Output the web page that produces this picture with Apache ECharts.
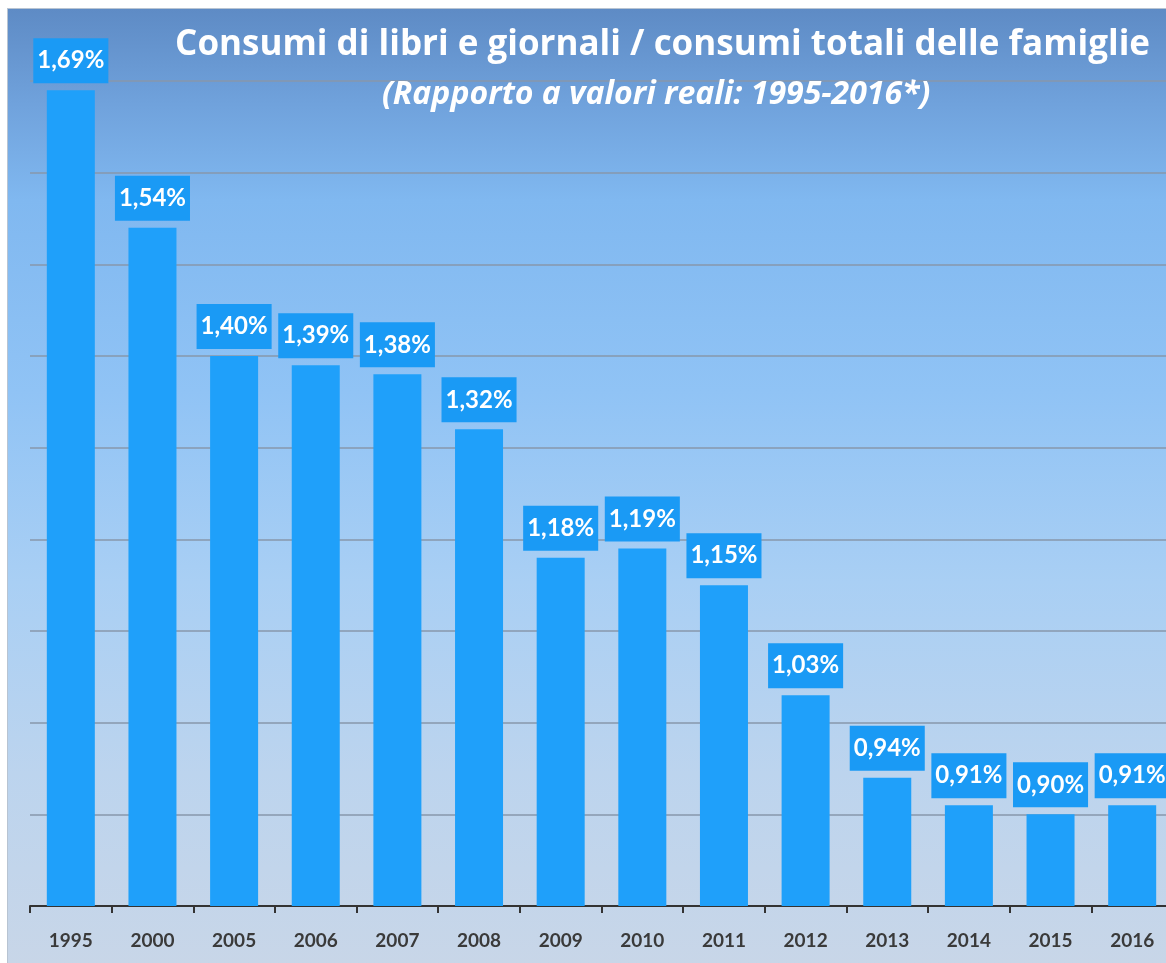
<!DOCTYPE html>
<html>
<head>
<meta charset="utf-8">
<script src="https://cdn.jsdelivr.net/npm/echarts@6/dist/echarts.min.js"></script>
<style>
html,body{margin:0;padding:0;background:#fff;width:1166px;height:963px;overflow:hidden;position:relative;}
#bg{position:absolute;left:7px;top:8px;width:1159px;height:955px;
background:linear-gradient(to bottom,#5e8bc5 0%,#70a2dc 10%,#80b8f0 20%,#90c3f5 40%,#a9cff4 60%,#bcd4ee 80%,#c8d6e8 100%);
border-left:1px solid #b8c4d2;border-top:1px solid #b8c4d2;}
#chart{position:absolute;left:0;top:0;width:1190px;height:963px;}
</style>
</head>
<body>
<div id="bg"></div>
<div id="chart"></div>
<script>
var categories = ['1995','2000','2005','2006','2007','2008','2009','2010','2011','2012','2013','2014','2015','2016'];
var values = [1.69,1.54,1.40,1.39,1.38,1.32,1.18,1.19,1.15,1.03,0.94,0.91,0.90,0.91];
var titleText = 'Consumi di libri e giornali / consumi totali delle famiglie';
var subtitleText = '(Rapporto a valori reali: 1995-2016*)';

var chart = echarts.init(document.getElementById('chart'), null, {renderer:'canvas'});
chart.setOption({
  backgroundColor: 'transparent',
  animation: false,
  title: [
    {text: titleText, right: 35, top: 23,
     textStyle:{color:'#ffffff', fontFamily:'Open Sans', fontWeight:'bold', fontSize:35}},
    {text: subtitleText, left: 377, top: 74,
     textStyle:{color:'#ffffff', fontFamily:'Open Sans', fontWeight:'bold', fontStyle:'italic', fontSize:32}}
  ],
  grid: {left: 30, top: 81, width: 1143, height: 825, containLabel: false},
  xAxis: {
    type: 'category',
    data: categories,
    axisLine: {show: true, lineStyle: {color: '#333333', width: 2}},
    axisTick: {show: true, length: 7, lineStyle: {color: '#333333', width: 2}},
    axisLabel: {color: '#3a3a3a', fontFamily: 'Lato', fontWeight: 'bold', fontSize: 19, margin: 25}
  },
  yAxis: {
    type: 'value',
    min: 0.8, max: 1.7, interval: 0.1,
    axisLabel: {show: false},
    axisLine: {show: false},
    axisTick: {show: false},
    splitLine: {show: true, lineStyle: {color: '#8797ab', width: 1.5}}
  },
  series: [{
    type: 'bar',
    data: values,
    barWidth: 48,
    itemStyle: {color: '#1fa0fa'},
    label: {
      show: true,
      position: 'top',
      distance: 7,
      formatter: function(p){ return p.value.toFixed(2).replace('.', ',') + '%'; },
      color: '#ffffff',
      fontFamily: 'Lato',
      fontWeight: 'bold',
      fontSize: 24,
      lineHeight: 27,
      backgroundColor: '#1a9af5',
      padding: [9, 4, 9, 4]
    }
  }]
});
</script>
</body>
</html>
